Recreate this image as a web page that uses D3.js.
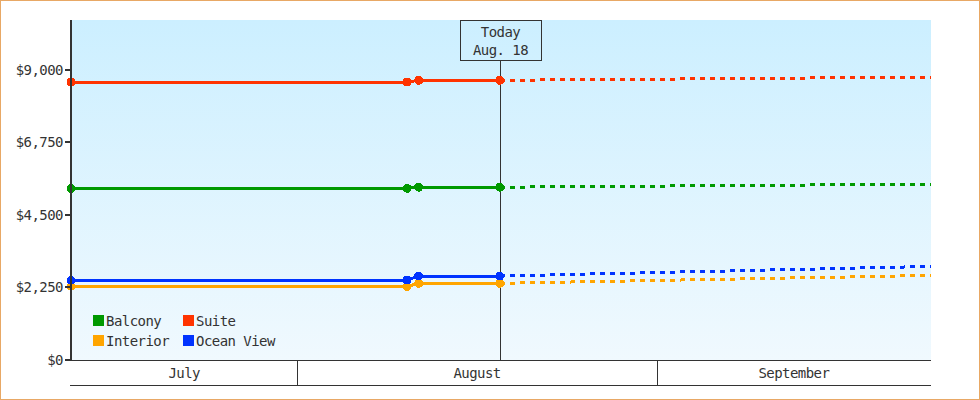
<!DOCTYPE html>
<html>
  <head>
    <meta charset="UTF-8" />
    <style>
      body {
        margin: 0;
        background: #fff;
      }
      svg text {
        font-family: "DejaVu Sans Mono", monospace;
        font-size: 14px;
        letter-spacing: -0.55px;
        fill: #333;
      }
      .crisp {
        shape-rendering: crispEdges;
      }
    </style>
  </head>
  <body>
    <svg></svg>
    <script src="https://d3js.org/d3.v7.min.js"></script>
    <script>
      // Cabin price history (solid) and forecast (dashed)
      const categories = ["Balcony", "Suite", "Interior", "Ocean View"];
      const priceDates = [
        "2023-07-12T11:00",
        "2023-08-10T11:00",
        "2023-08-11T11:00",
        "2023-08-18T11:00",
      ];
      const balconyPrices = [5315, 5328, 5362, 5362];
      const suitePrices = [8626, 8626, 8679, 8679];
      const interiorPrices = [2287, 2280, 2380, 2380];
      const oceanViewPrices = [2473, 2482, 2606, 2606];

      const forecastDates = ["2023-08-18T11:00", "2023-09-24T16:00"];
      const balconyForecast = [5362, 5458];
      const suiteForecast = [8679, 8778];
      const interiorForecast = [2380, 2624];
      const oceanViewForecast = [2606, 2904];

      const yTicks = [0, 2250, 4500, 6750, 9000];
      const yMax = 10550;
      const monthLabels = ["July", "August", "September"];
      const todayDate = "2023-08-18T11:00";
      const todayLabel = ["Today", "Aug. 18"];

      let width = 980,
        height = 400;
      let margin = { top: 20, right: 49, bottom: 40, left: 71 };
      let bandHeight = 25;

      let colors = {
        Balcony: "#009900",
        Suite: "#ff3300",
        Interior: "#ffa500",
        "Ocean View": "#0033ff",
      };

      let parse = d3.timeParse("%Y-%m-%dT%H:%M");

      let history = {
        Balcony: balconyPrices,
        Suite: suitePrices,
        Interior: interiorPrices,
        "Ocean View": oceanViewPrices,
      };
      let forecast = {
        Balcony: balconyForecast,
        Suite: suiteForecast,
        Interior: interiorForecast,
        "Ocean View": oceanViewForecast,
      };

      let series = categories.map((c) => ({
        name: c,
        past: priceDates.map((d, i) => ({ date: parse(d), value: history[c][i] })),
        future: forecastDates.map((d, i) => ({ date: parse(d), value: forecast[c][i] })),
      }));

      let svg = d3
        .select("svg")
        .attr("width", width)
        .attr("height", height);

      let plotBottom = height - margin.bottom;
      let plotRight = width - margin.right;

      let x = d3
        .scaleTime()
        .domain([parse(priceDates[0]), parse(forecastDates[forecastDates.length - 1])])
        .range([margin.left, plotRight]);

      let y = d3.scaleLinear().domain([0, yMax]).range([plotBottom, margin.top]);

      // background gradient
      let grad = svg
        .append("defs")
        .append("linearGradient")
        .attr("id", "bg")
        .attr("x1", 0)
        .attr("y1", 0)
        .attr("x2", 0)
        .attr("y2", 1);
      grad.append("stop").attr("offset", "0%").attr("stop-color", "#ccefff");
      grad.append("stop").attr("offset", "100%").attr("stop-color", "#f0f9fe");

      svg
        .append("rect")
        .attr("class", "crisp")
        .attr("x", margin.left)
        .attr("y", margin.top)
        .attr("width", plotRight - margin.left)
        .attr("height", plotBottom - margin.top)
        .attr("fill", "url(#bg)");

      // today marker line + box
      let tx = Math.round(x(parse(todayDate))) + 0.5;
      let boxW = 81,
        boxH = 40;
      svg
        .append("line")
        .attr("class", "crisp")
        .attr("x1", tx)
        .attr("x2", tx)
        .attr("y1", margin.top + boxH)
        .attr("y2", plotBottom)
        .attr("stroke", "#333")
        .attr("stroke-width", 1);
      svg
        .append("rect")
        .attr("class", "crisp")
        .attr("x", Math.round(tx - boxW / 2))
        .attr("y", margin.top + 0.5)
        .attr("width", boxW)
        .attr("height", boxH)
        .attr("fill", "none")
        .attr("stroke", "#333")
        .attr("stroke-width", 1);
      svg
        .append("g")
        .selectAll("text")
        .data(todayLabel)
        .join("text")
        .attr("x", tx)
        .attr("y", (d, i) => margin.top + 17 + i * 18)
        .attr("text-anchor", "middle")
        .text((d) => d);

      let line = d3
        .line()
        .x((d) => x(d.date))
        .y((d) => y(d.value));

      // forecast lines (dashed)
      svg
        .append("g")
        .selectAll("path")
        .data(series)
        .join("path")
        .attr("class", "crisp")
        .attr("d", (d) => line(d.future))
        .attr("fill", "none")
        .attr("stroke", (d) => colors[d.name])
        .attr("stroke-width", 3)
        .attr("stroke-dasharray", "5,5");

      // history lines (solid)
      svg
        .append("g")
        .selectAll("path")
        .data(series)
        .join("path")
        .attr("class", "crisp")
        .attr("d", (d) => line(d.past))
        .attr("fill", "none")
        .attr("stroke", (d) => colors[d.name])
        .attr("stroke-width", 3);

      // markers
      svg
        .append("g")
        .selectAll("g")
        .data(series)
        .join("g")
        .attr("fill", (d) => colors[d.name])
        .selectAll("circle")
        .data((d) => d.past)
        .join("circle")
        .attr("class", "crisp")
        .attr("cx", (d) => x(d.date))
        .attr("cy", (d) => y(d.value))
        .attr("r", 4.5);

      // y axis
      let yAxis = svg.append("g").attr("class", "crisp");
      yAxis
        .append("line")
        .attr("x1", margin.left)
        .attr("x2", margin.left)
        .attr("y1", margin.top)
        .attr("y2", plotBottom + 1)
        .attr("stroke", "#333")
        .attr("stroke-width", 2);
      let ticks = yAxis
        .selectAll("g.tick")
        .data(yTicks)
        .join("g")
        .attr("class", "tick")
        .attr("transform", (d) => `translate(0,${Math.round(y(d))})`);
      ticks
        .append("line")
        .attr("x1", margin.left - 6)
        .attr("x2", margin.left)
        .attr("stroke", "#333")
        .attr("stroke-width", 2);
      ticks
        .append("text")
        .attr("x", margin.left - 8)
        .attr("dy", "0.36em")
        .attr("text-anchor", "end")
        .text((d) => d3.format("$,")(d));

      // month band under the plot
      let band = svg.append("g").attr("class", "crisp");
      band
        .append("line")
        .attr("x1", margin.left - 1)
        .attr("x2", plotRight)
        .attr("y1", plotBottom + 0.5)
        .attr("y2", plotBottom + 0.5)
        .attr("stroke", "#333");
      band
        .append("line")
        .attr("x1", margin.left - 1)
        .attr("x2", plotRight)
        .attr("y1", plotBottom + bandHeight + 0.5)
        .attr("y2", plotBottom + bandHeight + 0.5)
        .attr("stroke", "#333");

      let [d0, d1] = x.domain();
      let monthStarts = d3.timeMonth.range(d3.timeMonth.floor(d0), d1);
      let months = monthStarts.map((m, i) => ({
        label: monthLabels[i],
        start: m < d0 ? d0 : m,
        end: d3.timeMonth.offset(m, 1) > d1 ? d1 : d3.timeMonth.offset(m, 1),
      }));

      band
        .selectAll("line.sep")
        .data(months.filter((m, i) => i > 0))
        .join("line")
        .attr("class", "sep")
        .attr("x1", (d) => Math.round(x(d.start)) + 0.5)
        .attr("x2", (d) => Math.round(x(d.start)) + 0.5)
        .attr("y1", plotBottom)
        .attr("y2", plotBottom + bandHeight)
        .attr("stroke", "#333");

      svg
        .append("g")
        .selectAll("text")
        .data(months)
        .join("text")
        .attr("x", (d) => (x(d.start) + x(d.end)) / 2)
        .attr("y", plotBottom + 18)
        .attr("text-anchor", "middle")
        .text((d) => d.label);

      // legend
      let legend = svg
        .append("g")
        .attr("transform", `translate(${margin.left + 22},${plotBottom - 45})`);
      let item = legend
        .selectAll("g")
        .data(categories)
        .join("g")
        .attr("transform", (d, i) => `translate(${(i % 2) * 90},${Math.floor(i / 2) * 20})`);
      item
        .append("rect")
        .attr("class", "crisp")
        .attr("width", 11)
        .attr("height", 11)
        .attr("fill", (d) => colors[d]);
      item
        .append("text")
        .attr("x", 13)
        .attr("y", 10.5)
        .text((d) => d);

      // outer frame
      svg
        .append("rect")
        .attr("class", "crisp")
        .attr("x", 0.5)
        .attr("y", 0.5)
        .attr("width", width - 1)
        .attr("height", height - 1)
        .attr("fill", "none")
        .attr("stroke", "#e8a865");
    </script>
  </body>
</html>
